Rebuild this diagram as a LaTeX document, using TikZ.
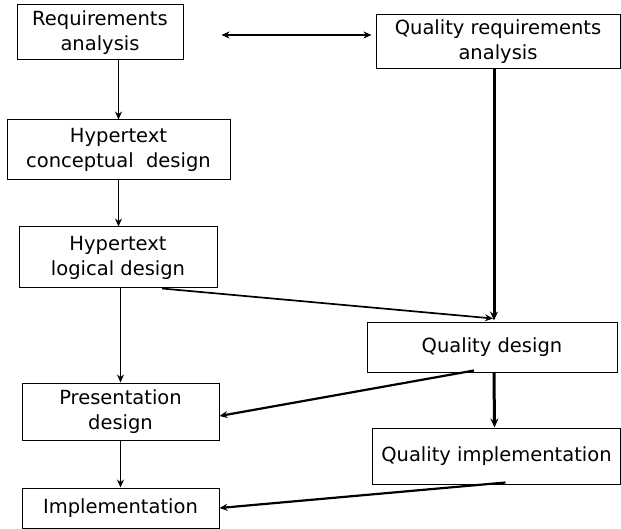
\documentclass[tikz,border=0pt]{standalone}
\usepackage{fontspec}
\setmainfont{DejaVu Sans}
\usetikzlibrary{arrows.meta}

\tikzset{
  box/.style={draw,line width=1pt,rectangle,align=center,inner sep=0pt,
    font=\fontsize{19.5}{25}\selectfont},
  flow/.style={line width=1.7pt,-{Stealth[length=8pt,width=7pt]}},
  qflow/.style={line width=3pt,-{Stealth[length=9pt,width=8pt]}}
}

\begin{document}
\begin{tikzpicture}[x=1pt,y=-1pt]
			\useasboundingbox (0,0) rectangle (621,529);
			% left column
			\node[box,minimum width=166pt,minimum height=55pt] (reqan) at (100,32.5) {Requirements\\analysis};
			\node[box,minimum width=223pt,minimum height=60pt] (hconc) at (118.5,150) {Hypertext\\conceptual\ \ design};
			\node[box,minimum width=198pt,minimum height=61pt] (hlog) at (118,257.5) {Hypertext\\logical design};
			\node[box,minimum width=197pt,minimum height=57pt] (pres) at (120.5,411.5) {Presentation\\design};
			\node[box,minimum width=197pt,minimum height=40pt] (impl) at (120.5,508) {Implementation};
			% right column
			\node[box,minimum width=244pt,minimum height=54pt] (qreqan) at (498,42) {Quality requirements\\analysis};
			\node[box,minimum width=250pt,minimum height=50pt] (qdes) at (492,347) {Quality design};
			\node[box,minimum width=248pt,minimum height=56pt] (qimpl) at (496.5,456) {Quality implementation};
			% arrows
			\coordinate (dl) at ([xshift=38pt,yshift=-2.5pt]reqan.east);
			\coordinate (dr) at ([xshift=-4pt]qreqan.west |- dl);
			\draw[line width=1.7pt,{Stealth[length=8pt,width=7pt]}-{Stealth[length=8pt,width=7pt]}] (dl) -- (dr);
			\draw[flow] (hconc.north |- reqan.south) -- (hconc.north);
			\draw[flow] (hconc.south) -- (hconc.south |- hlog.north);
			\draw[flow] (pres.north |- hlog.south) -- (pres.north);
			\draw[flow] (pres.south) -- (impl.north);
			\draw[qflow] ([xshift=-4pt]qreqan.south) -- ([xshift=2pt,yshift=1pt]qdes.north);
			\draw[flow] ([xshift=44pt]hlog.south) -- ([xshift=1pt,yshift=3pt]qdes.north);
			\draw[qflow] ([xshift=2pt]qdes.south) -- ([xshift=-2pt]qimpl.north);
			\draw[flow,line width=2.2pt] ([xshift=-18pt,yshift=2pt]qdes.south) -- ([yshift=-4.5pt]pres.east);
			\draw[flow,line width=2.2pt] ([xshift=9pt,yshift=2pt]qimpl.south) -- (impl.east);
\end{tikzpicture}
\end{document}
